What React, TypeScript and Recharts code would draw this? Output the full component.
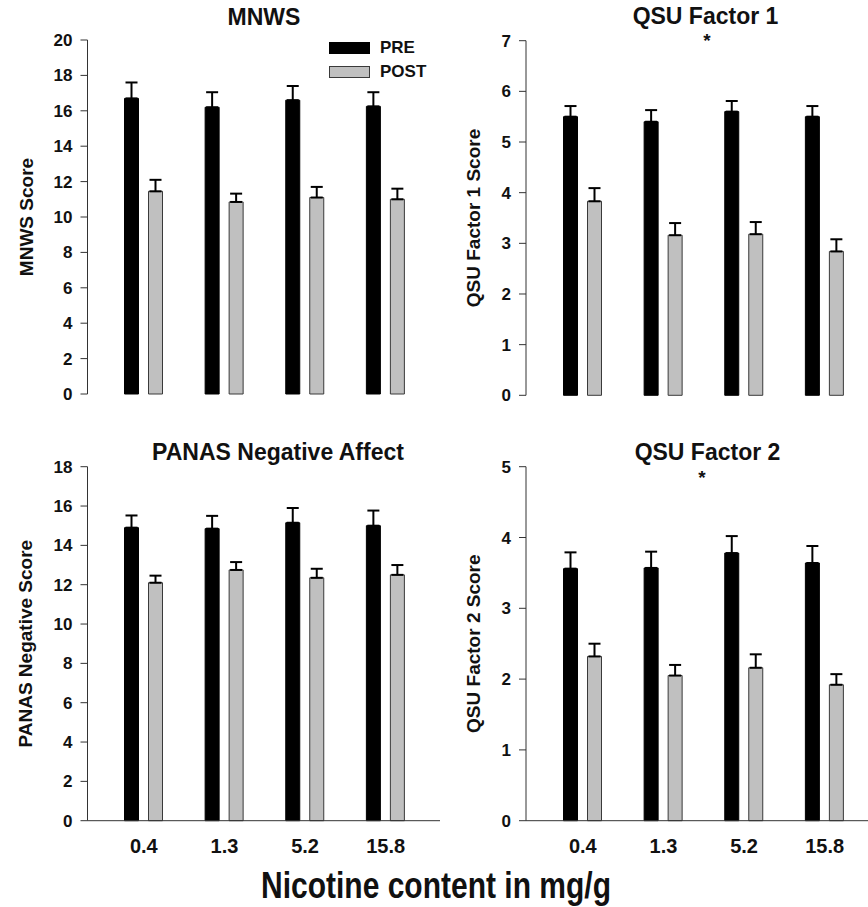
import { BarChart, Bar, XAxis, YAxis, ErrorBar } from 'recharts';

// nicotine content groups (mg/g)
const doses = ['0.4', '1.3', '5.2', '15.8'];

// MNWS withdrawal score
const mnwsPre = [16.7, 16.2, 16.6, 16.25];
const mnwsPreErr = [0.9, 0.85, 0.8, 0.8];
const mnwsPost = [11.45, 10.85, 11.1, 11.0];
const mnwsPostErr = [0.65, 0.47, 0.6, 0.6];
const mnwsTicks = [0, 2, 4, 6, 8, 10, 12, 14, 16, 18, 20];

// QSU factor 1
const qsu1Pre = [5.5, 5.4, 5.6, 5.5];
const qsu1PreErr = [0.21, 0.23, 0.21, 0.21];
const qsu1Post = [3.83, 3.16, 3.18, 2.84];
const qsu1PostErr = [0.26, 0.24, 0.24, 0.24];
const qsu1Ticks = [0, 1, 2, 3, 4, 5, 6, 7];

// PANAS negative affect
const panasPre = [14.9, 14.85, 15.15, 15.0];
const panasPreErr = [0.62, 0.65, 0.75, 0.77];
const panasPost = [12.1, 12.75, 12.35, 12.5];
const panasPostErr = [0.36, 0.4, 0.46, 0.5];
const panasTicks = [0, 2, 4, 6, 8, 10, 12, 14, 16, 18];

// QSU factor 2
const qsu2Pre = [3.56, 3.57, 3.78, 3.64];
const qsu2PreErr = [0.23, 0.23, 0.24, 0.24];
const qsu2Post = [2.32, 2.05, 2.16, 1.92];
const qsu2PostErr = [0.18, 0.15, 0.19, 0.15];
const qsu2Ticks = [0, 1, 2, 3, 4, 5];

const series = [
  { key: 'pre', name: 'PRE', fill: '#000000', stroke: '#000000' },
  { key: 'post', name: 'POST', fill: '#c0c0c0', stroke: '#3a3a3a' },
];

const FONT = '"Liberation Sans", Arial, sans-serif';

// one-sided (upward) error bars: [below, above]
const buildRows = (pre: number[], preErr: number[], post: number[], postErr: number[]) =>
  doses.map((dose, i) => ({
    dose,
    pre: pre[i],
    preErr: [0, preErr[i]],
    post: post[i],
    postErr: [0, postErr[i]],
  }));

interface PanelProps {
  rows: ReturnType<typeof buildRows>;
  ticks: number[];
  yLabel: string;
  left: number;
  top: number;
  width: number;
  height: number;
  axisWidth: number;
  margin: { top: number; right: number; bottom: number; left: number };
  padding: { left: number; right: number };
  showDoses: boolean;
  labelDx: number;
}

function Panel(p: PanelProps) {
  return (
    <div style={{ position: 'absolute', left: p.left, top: p.top }}>
      <BarChart width={p.width} height={p.height} data={p.rows} margin={p.margin} barGap={10}>
        <XAxis
          dataKey="dose"
          axisLine={{ stroke: '#333', strokeWidth: 1 }}
          tickLine={false}
          tickSize={0}
          tickMargin={18}
          height={p.showDoses ? 35 : 0}
          tick={p.showDoses ? { fontSize: 20, fontWeight: 'bold', fill: '#111', fontFamily: FONT } : false}
          padding={p.padding}
          interval={0}
        />
        <YAxis
          width={p.axisWidth}
          domain={[0, p.ticks[p.ticks.length - 1]]}
          ticks={p.ticks}
          interval={0}
          axisLine={{ stroke: '#333', strokeWidth: 1 }}
          tickLine={{ stroke: '#333' }}
          tickSize={7}
          tickMargin={8}
          tick={{ fontSize: 17, fontWeight: 'bold', fill: '#111', fontFamily: FONT }}
          label={{
            value: p.yLabel,
            angle: -90,
            position: 'center',
            dx: p.labelDx,
            style: { fontSize: 19, fontWeight: 'bold', fill: '#111', fontFamily: FONT },
          }}
        />
        {series.map((s) => (
          <Bar
            key={s.key}
            dataKey={s.key}
            name={s.name}
            fill={s.fill}
            stroke={s.stroke}
            strokeWidth={1}
            barSize={14}
            isAnimationActive={false}
          >
            <ErrorBar dataKey={s.key + 'Err'} direction="y" width={6} strokeWidth={2} stroke="#000" />
          </Bar>
        ))}
      </BarChart>
    </div>
  );
}

const textStyle = {
  position: 'absolute' as const,
  fontFamily: FONT,
  fontWeight: 'bold' as const,
  color: '#111',
  whiteSpace: 'nowrap' as const,
  lineHeight: 1,
};

function Caption({ x, y, size, children, scaleY = 1 }: { x: number; y: number; size: number; children: string; scaleY?: number }) {
  return (
    <div style={{ ...textStyle, left: x, top: y, fontSize: size, transform: `translate(-50%, -50%) scaleY(${scaleY})` }}>
      {children}
    </div>
  );
}

export default function App() {
  return (
    <div style={{ position: 'absolute', left: 0, top: 0, width: 868, height: 907, background: '#fff', overflow: 'hidden' }}>
      <Panel
        rows={buildRows(mnwsPre, mnwsPreErr, mnwsPost, mnwsPostErr)}
        ticks={mnwsTicks}
        yLabel="MNWS Score"
        left={0}
        top={0}
        width={444}
        height={420}
        axisWidth={87.5}
        margin={{ top: 40, right: 4, bottom: 26, left: 0 }}
        padding={{ left: 16, right: 14 }}
        showDoses={false}
        labelDx={-17}
      />
      <Panel
        rows={buildRows(qsu1Pre, qsu1PreErr, qsu1Post, qsu1PostErr)}
        ticks={qsu1Ticks}
        yLabel="QSU Factor 1 Score"
        left={440}
        top={0}
        width={428}
        height={420}
        axisWidth={86}
        margin={{ top: 40.7, right: 0, bottom: 24.7, left: 0 }}
        padding={{ left: 16.5, right: 3 }}
        showDoses={false}
        labelDx={-10}
      />
      <Panel
        rows={buildRows(panasPre, panasPreErr, panasPost, panasPostErr)}
        ticks={panasTicks}
        yLabel="PANAS Negative Score"
        left={0}
        top={420}
        width={444}
        height={440}
        axisWidth={87.5}
        margin={{ top: 46.7, right: 4, bottom: 4.3, left: 0 }}
        padding={{ left: 16, right: 14 }}
        showDoses={true}
        labelDx={-18.5}
      />
      <Panel
        rows={buildRows(qsu2Pre, qsu2PreErr, qsu2Post, qsu2PostErr)}
        ticks={qsu2Ticks}
        yLabel="QSU Factor 2 Score"
        left={440}
        top={420}
        width={428}
        height={440}
        axisWidth={86}
        margin={{ top: 46.7, right: 0, bottom: 4.3, left: 0 }}
        padding={{ left: 16.5, right: 3 }}
        showDoses={true}
        labelDx={-10}
      />

      {/* panel titles and significance marks */}
      <Caption x={264} y={17} size={23}>MNWS</Caption>
      <Caption x={705.5} y={16} size={23}>QSU Factor 1</Caption>
      <Caption x={707} y={40} size={19}>*</Caption>
      <Caption x={278} y={452} size={23}>PANAS Negative Affect</Caption>
      <Caption x={707.5} y={452} size={23}>QSU Factor 2</Caption>
      <Caption x={702} y={477} size={19}>*</Caption>

      {/* legend */}
      <div style={{ position: 'absolute', left: 329, top: 42, fontFamily: FONT }}>
        {series.map((s) => (
          <div key={s.key} style={{ display: 'flex', alignItems: 'center', height: 12, marginBottom: 12 }}>
            <div style={{ width: 39, height: 10, background: s.fill, border: `1px solid ${s.stroke}` }} />
            <span style={{ marginLeft: 10, fontSize: 17, fontWeight: 'bold', color: '#111' }}>{s.name}</span>
          </div>
        ))}
      </div>

      <Caption x={436} y={886} size={30} scaleY={1.2}>Nicotine content in mg/g</Caption>
    </div>
  );
}
